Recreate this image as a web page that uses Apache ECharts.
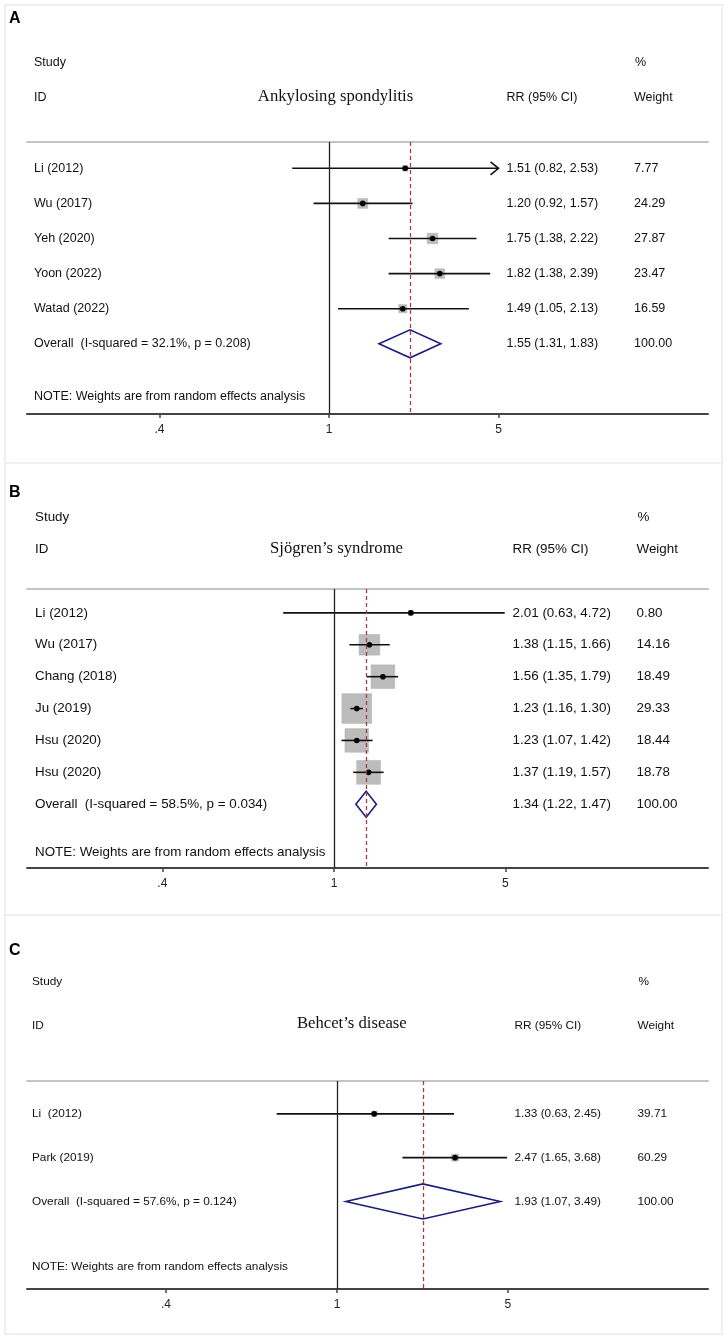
<!DOCTYPE html>
<html>
<head>
<meta charset="utf-8">
<script src="https://cdn.jsdelivr.net/npm/echarts@6/dist/echarts.min.js"></script>
<style>html,body{margin:0;padding:0;background:#fff}#c{width:727px;height:1339px}</style>
</head>
<body>
<div id="c"></div>
<script>
// ---------- DATA ----------
const tickLabels = ['.4', '1', '5'];

// Panel A: Ankylosing spondylitis
const titleA = 'Ankylosing spondylitis';
const studiesA = ['Li (2012)', 'Wu (2017)', 'Yeh (2020)', 'Yoon (2022)', 'Watad (2022)'];
const rrA = [1.51, 1.20, 1.75, 1.82, 1.49];
const lowA = [0.82, 0.92, 1.38, 1.38, 1.05];
const highA = [2.53, 1.57, 2.22, 2.39, 2.13];
const weightA = [7.77, 24.29, 27.87, 23.47, 16.59];
const overallA = [1.55, 1.31, 1.83];
const i2A = 32.1, pA = 0.208;
const tickPosA = [0.4, 1, 2.5];

// Panel B: Sjögren's syndrome
const titleB = 'Sjögren\u2019s syndrome';
const studiesB = ['Li (2012)', 'Wu (2017)', 'Chang (2018)', 'Ju (2019)', 'Hsu (2020)', 'Hsu (2020)'];
const rrB = [2.01, 1.38, 1.56, 1.23, 1.23, 1.37];
const lowB = [0.63, 1.15, 1.35, 1.16, 1.07, 1.19];
const highB = [4.72, 1.66, 1.79, 1.30, 1.42, 1.57];
const weightB = [0.80, 14.16, 18.49, 29.33, 18.44, 18.78];
const overallB = [1.34, 1.22, 1.47];
const i2B = 58.5, pB = 0.034;
const tickPosB = [0.21, 1, 4.75];

// Panel C: Behcet's disease
const titleC = 'Behcet\u2019s disease';
const studiesC = ['Li  (2012)', 'Park (2019)'];
const rrC = [1.33, 2.47];
const lowC = [0.63, 1.65];
const highC = [2.45, 3.68];
const weightC = [39.71, 60.29];
const overallC = [1.93, 1.07, 3.49];
const i2C = 57.6, pC = 0.124;
const tickPosC = [0.27, 1, 3.7];

// ---------- LAYOUT ----------
const GL = 27, GR = 708;
const panels = [
  { letter: 'A', title: titleA, studies: studiesA, rr: rrA, low: lowA, high: highA, w: weightA, ov: overallA, i2: i2A, p: pA, ticks: tickPosA,
    top: 142, height: 272, center: 329, k: 185, fs: 12.5, labelX: 34, rrX: 506.5, wX: 634, box: 2.0, dh: 14,
    box0: 5, box1: 463, letterY: 19, studyY: 63, idY: 98, titleX: 335.5, titleY: 97, noteY: 396.7 },
  { letter: 'B', title: titleB, studies: studiesB, rr: rrB, low: lowB, high: highB, w: weightB, ov: overallB, i2: i2B, p: pB, ticks: tickPosB,
    top: 589, height: 279, center: 334, k: 110, fs: 13.4, labelX: 35, rrX: 512.6, wX: 636.5, box: 5.5, dh: 13,
    box0: 463, box1: 915, letterY: 492.7, studyY: 517.7, idY: 549.3, titleX: 336.5, titleY: 549, noteY: 852.7 },
  { letter: 'C', title: titleC, studies: studiesC, rr: rrC, low: lowC, high: highC, w: weightC, ov: overallC, i2: i2C, p: pC, ticks: tickPosC,
    top: 1081, height: 208, center: 337, k: 130.6, fs: 11.8, labelX: 32, rrX: 514.4, wX: 637.5, box: 0.9, dh: 17.5,
    box0: 915, box1: 1334, letterY: 951, studyY: 981.7, idY: 1025.7, titleX: 351.8, titleY: 1024, noteY: 1266.7 }
];

const SANS = '"Liberation Sans", Arial, Helvetica, sans-serif';
const SERIF = '"Liberation Serif", "Times New Roman", serif';
const ln = Math.log;
const f2 = v => v.toFixed(2);

const chart = echarts.init(document.getElementById('c'), null, { renderer: 'canvas' });

const grids = [], xAxes = [], yAxes = [], series = [], graphics = [];

panels.forEach((P, pi) => {
  const n = P.studies.length;
  const xmin = (GL - P.center) / P.k, xmax = (GR - P.center) / P.k;
  const tickLn = P.ticks.map(ln);
  grids.push({ left: GL, width: GR - GL, top: P.top, height: P.height });
  xAxes.push({
    type: 'value', gridIndex: pi, min: xmin, max: xmax, position: 'bottom',
    splitLine: { show: false },
    axisLine: { show: true, onZero: false, lineStyle: { color: '#444', width: 2 } },
    axisTick: { show: true, customValues: tickLn, length: 4, lineStyle: { color: '#444', width: 1.5 } },
    axisLabel: {
      show: true, customValues: tickLn, margin: 10, color: '#222', fontFamily: SANS, fontSize: 12,
      formatter: v => {
        let bi = 0, bd = Infinity;
        tickLn.forEach((t, j) => { const d = Math.abs(t - v); if (d < bd) { bd = d; bi = j; } });
        return tickLabels[bi];
      }
    }
  });
  xAxes.push({
    type: 'value', gridIndex: pi, min: xmin, max: xmax, position: 'top',
    splitLine: { show: false }, axisTick: { show: false }, axisLabel: { show: false },
    axisLine: { show: true, onZero: false, lineStyle: { color: '#c4c4c4', width: 2 } }
  });
  // rows 0..n-1 studies, row n overall; axis spans -0.75 .. n+2
  yAxes.push({ type: 'value', gridIndex: pi, min: -0.75, max: n + 2, inverse: true, show: false });

  const data = [];
  for (let i = 0; i < n; i++) data.push([ln(P.rr[i]), i, i]);
  data.push([ln(P.ov[0]), n, n]);

  const font = P.fs + 'px ' + SANS;
  const tMin = P.ticks[0], tMax = P.ticks[P.ticks.length - 1];

  series.push({
    type: 'custom', xAxisIndex: pi * 2, yAxisIndex: pi, clip: false, silent: true, animation: false,
    encode: { x: 0, y: 1 },
    data: data,
    renderItem: function (params, api) {
      const i = api.value(2);
      const y = api.coord([0, i])[1];
      const X = v => api.coord([ln(v), i])[0];
      const ch = [];
      if (i < n) {
        const cx = X(P.rr[i]);
        const side = P.box * Math.sqrt(P.w[i]);
        ch.push({ type: 'rect', shape: { x: cx - side / 2, y: y - side / 2, width: side, height: side },
          style: { fill: '#bcbcbc', stroke: '#b0b0b0', lineWidth: 0.5 } });
        const lo = Math.max(P.low[i], tMin), hi = Math.min(P.high[i], tMax);
        const x1 = X(lo), x2 = X(hi);
        ch.push({ type: 'line', shape: { x1: x1, y1: y, x2: x2, y2: y }, style: { stroke: '#111', lineWidth: 1.6 } });
        if (P.high[i] > tMax) {
          ch.push({ type: 'polyline', shape: { points: [[x2 - 8, y - 6.5], [x2, y], [x2 - 8, y + 6.5]] },
            style: { stroke: '#111', lineWidth: 1.6, fill: 'none' } });
        }
        if (P.low[i] < tMin) {
          ch.push({ type: 'polyline', shape: { points: [[x1 + 8, y - 6.5], [x1, y], [x1 + 8, y + 6.5]] },
            style: { stroke: '#111', lineWidth: 1.6, fill: 'none' } });
        }
        ch.push({ type: 'circle', shape: { cx: cx, cy: y, r: 2.8 }, style: { fill: '#000' } });
        ch.push({ type: 'text', x: P.labelX, y: y, style: { text: P.studies[i], font: font, fill: '#111', align: 'left', verticalAlign: 'middle' } });
        ch.push({ type: 'text', x: P.rrX, y: y, style: { text: f2(P.rr[i]) + ' (' + f2(P.low[i]) + ', ' + f2(P.high[i]) + ')', font: font, fill: '#111', align: 'left', verticalAlign: 'middle' } });
        ch.push({ type: 'text', x: P.wX, y: y, style: { text: f2(P.w[i]), font: font, fill: '#111', align: 'left', verticalAlign: 'middle' } });
      } else {
        const xc = X(P.ov[0]), xl = X(P.ov[1]), xr = X(P.ov[2]);
        ch.push({ type: 'polygon', shape: { points: [[xl, y], [xc, y - P.dh], [xr, y], [xc, y + P.dh]] },
          style: { fill: 'none', stroke: '#1b1f7a', lineWidth: 1.6 } });
        const tw = P.w.reduce((a, b) => a + b, 0);
        ch.push({ type: 'text', x: P.labelX, y: y, style: { text: 'Overall  (I-squared = ' + P.i2.toFixed(1) + '%, p = ' + P.p.toFixed(3) + ')', font: font, fill: '#111', align: 'left', verticalAlign: 'middle' } });
        ch.push({ type: 'text', x: P.rrX, y: y, style: { text: f2(P.ov[0]) + ' (' + f2(P.ov[1]) + ', ' + f2(P.ov[2]) + ')', font: font, fill: '#111', align: 'left', verticalAlign: 'middle' } });
        ch.push({ type: 'text', x: P.wX, y: y, style: { text: (Math.round(tw)).toFixed(2), font: font, fill: '#111', align: 'left', verticalAlign: 'middle' } });
      }
      return { type: 'group', children: ch };
    },
    markLine: {
      silent: true, symbol: ['none', 'none'], animation: false, label: { show: false },
      data: [
        { xAxis: 0, lineStyle: { color: '#222', width: 1.3, type: 'solid' } },
        { xAxis: ln(P.ov[0]), lineStyle: { color: '#a83a46', width: 1.3, type: [4, 3] } }
      ]
    }
  });

  // frame, letter, headers, title, note
  graphics.push({ type: 'rect', shape: { x: 5, y: P.box0, width: 717, height: P.box1 - P.box0 }, style: { fill: 'none', stroke: '#eaf0f4', lineWidth: 2 }, z: -1 });
  graphics.push({ type: 'text', x: 9, y: P.letterY, style: { text: P.letter, font: 'bold 16px ' + SANS, fill: '#000', verticalAlign: 'middle' } });
  const hs = (t, x, y) => graphics.push({ type: 'text', x: x, y: y, style: { text: t, font: font, fill: '#111', verticalAlign: 'middle' } });
  hs('Study', P.labelX, P.studyY);
  hs('%', P.wX + 1, P.studyY);
  hs('ID', P.labelX, P.idY);
  hs('RR (95% CI)', P.rrX, P.idY);
  hs('Weight', P.wX, P.idY);
  hs('NOTE: Weights are from random effects analysis', P.labelX, P.noteY);
  graphics.push({ type: 'text', x: P.titleX, y: P.titleY, style: { text: P.title, font: '16.7px ' + SERIF, fill: '#111', align: 'center', verticalAlign: 'middle' } });
});

chart.setOption({
  animation: false,
  backgroundColor: '#fff',
  grid: grids,
  xAxis: xAxes,
  yAxis: yAxes,
  series: series,
  graphic: { elements: graphics }
});
</script>
</body>
</html>
